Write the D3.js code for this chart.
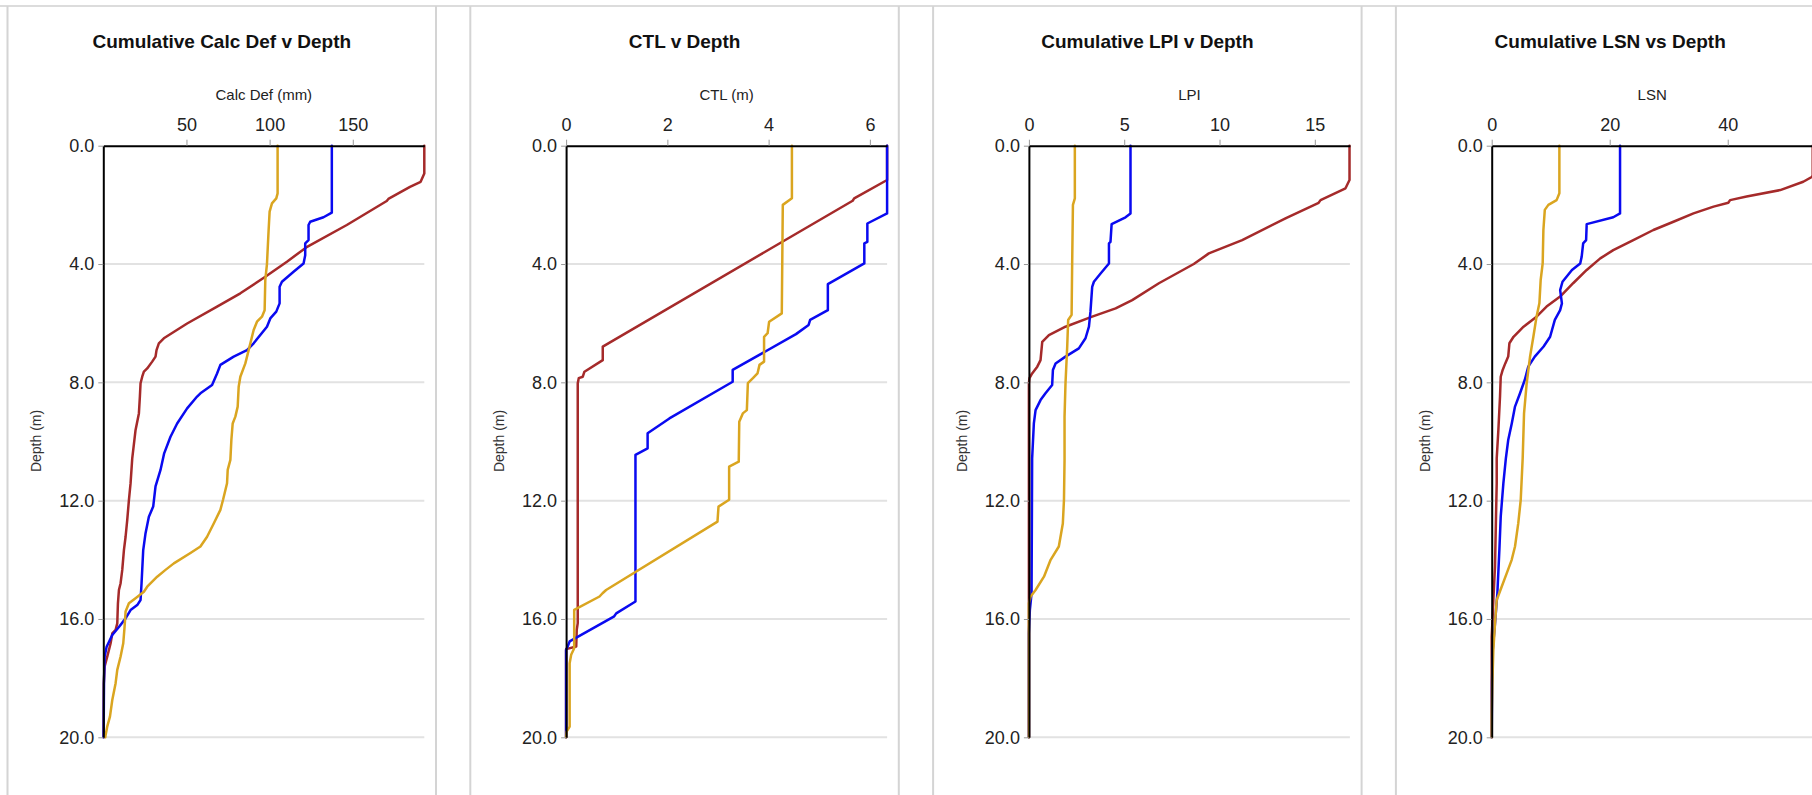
<!DOCTYPE html>
<html>
<head>
<meta charset="utf-8">
<script src="https://cdn.jsdelivr.net/npm/d3@7"></script>
<style>
  html, body { margin: 0; padding: 0; background: #fff; }
  svg { display: block; font-family: "Liberation Sans", Arial, sans-serif; }
</style>
</head>
<body>
<svg id="chart" width="1812" height="795"></svg>
<script>
// ---------------- DATA ([depth m, value]) ----------------
const panelTitles = ["Cumulative Calc Def v Depth", "CTL v Depth", "Cumulative LPI v Depth", "Cumulative LSN vs Depth"];
const axisTitles  = ["Calc Def (mm)", "CTL (m)", "LPI", "LSN"];
const xMax        = [193, 6.34, 16.84, 54.4];
const xTickValues = [[50, 100, 150], [0, 2, 4, 6], [0, 5, 10, 15], [0, 20, 40]];
const depthTicks  = [0, 4, 8, 12, 16, 20];
const yAxisTitle  = "Depth (m)";
const seriesColors = ["#a52a2a", "#0a0af0", "#daa520"];

// Panel 1: Cumulative Calc Def (mm)
const calcDefRed = [[0,193],[0.94,193],[1.22,190.8],[1.39,184.4],[1.80,171.4],[1.87,170.4],[2.68,146.4],[3.44,122],[3.92,110.4],[4.43,97.4],[4.99,82.4],[5.44,68.4],[6.01,50.4],[6.51,36.4],[6.68,33.4],[6.91,32],[7.13,31.4],[7.30,29.4],[7.53,26.4],[7.64,24.4],[7.81,23.4],[8.03,22.4],[8.48,22],[9.05,21.4],[9.61,19.4],[10.57,17.4],[11.41,16.4],[11.98,15.4],[12.65,14.4],[13.22,13.4],[13.67,12.4],[14.34,11.4],[14.79,10.4],[15.02,9.4],[15.47,8.8],[16.15,8.4],[16.37,7.4],[16.49,5.4],[16.82,4.4],[17.27,2.4],[17.6,0.8],[18.2,0.3],[20,0.2]];
const calcDefBlue = [[0,137.4],[2.26,137.4],[2.42,132.4],[2.57,124.4],[2.68,123.4],[3.19,123.4],[3.30,121.4],[3.70,121.4],[3.98,120.4],[4.26,114.4],[4.60,107.4],[4.77,106],[5.33,106],[5.61,104],[5.84,100.4],[6.12,98.4],[6.68,90.4],[6.91,86.4],[7.13,78.4],[7.41,70.4],[7.70,68.4],[8.09,65.4],[8.37,58.4],[8.48,56.4],[8.88,50.4],[9.39,44.4],[9.84,40.4],[10.4,36.6],[10.96,34.4],[11.52,31.4],[12.20,30],[12.54,27.4],[13.10,25.4],[13.67,24],[14.79,23],[15.36,22.4],[15.53,20.4],[15.70,16.4],[15.98,13.4],[16.27,9.4],[16.54,5.4],[16.94,2],[17.27,0.8],[18.17,0.4],[20,0.2]];
const calcDefGold = [[0,104.8],[1.61,104.8],[1.78,104],[1.95,101.4],[2.23,100],[2.85,99.4],[4.0,98.4],[4.54,97.4],[5.56,97],[5.78,95.4],[5.95,92.4],[6.23,90.4],[6.91,87.4],[7.36,85.4],[7.81,82.4],[8.15,81.4],[8.82,80.8],[9.16,79.4],[9.39,77.8],[9.95,77],[10.62,76.4],[10.96,74.8],[11.41,74.4],[11.97,72],[12.31,70.4],[12.77,66.4],[13.22,62.4],[13.55,58.4],[13.77,52.4],[14.12,42.4],[14.34,37.4],[14.57,32.4],[14.91,26.4],[15.08,24.4],[15.30,19.4],[15.47,15.4],[15.75,13.4],[16.26,12.8],[16.82,12],[17.27,10.4],[17.72,8.4],[18.17,7.4],[18.74,5.4],[19.30,4],[19.63,2.4],[19.92,1.4],[20,1.2]];

// Panel 2: CTL (m)
const ctlRed = [[0,6.34],[1.16,6.34],[1.78,5.69],[1.86,5.66],[6.79,0.724],[7.25,0.724],[7.64,0.362],[7.81,0.33],[7.86,0.25],[8.03,0.23],[16.14,0.23],[16.37,0.21],[16.93,0.2],[17.02,0],[20,0]];
const ctlBlue = [[0,6.34],[2.29,6.34],[2.63,5.95],[3.25,5.95],[3.30,5.89],[3.98,5.89],[4.68,5.17],[5.56,5.17],[5.89,4.82],[6.06,4.79],[6.37,4.54],[7.58,3.29],[7.98,3.29],[9.22,2.04],[9.72,1.61],[10.23,1.61],[10.45,1.37],[15.41,1.37],[15.81,0.99],[15.91,0.95],[16.76,0.07],[16.93,0.03],[17.05,0],[20,0]];
const ctlGold = [[0,4.46],[1.78,4.46],[2.0,4.28],[5.67,4.26],[5.95,4.01],[6.34,3.98],[6.46,3.91],[7.30,3.91],[7.41,3.82],[7.70,3.78],[7.86,3.69],[8.03,3.59],[8.94,3.57],[9.05,3.49],[9.33,3.42],[10.68,3.41],[10.85,3.22],[11.97,3.22],[12.20,3.01],[12.71,2.99],[15.02,0.79],[15.13,0.72],[15.24,0.66],[15.69,0.16],[16.99,0.16],[17.21,0.1],[17.50,0.07],[19.64,0.07],[19.81,0.01],[20,0]];

// Panel 3: Cumulative LPI
const lpiRed = [[0,16.82],[1.16,16.82],[1.44,16.61],[1.84,15.30],[1.93,15.2],[2.46,13.46],[3.19,11.19],[3.64,9.44],[4.0,8.65],[4.65,6.82],[5.22,5.42],[5.50,4.55],[5.78,3.32],[6.12,1.92],[6.40,1.05],[6.63,0.70],[7.25,0.61],[7.47,0.44],[7.70,0.17],[7.86,0.03],[8.03,0],[20,0]];
const lpiBlue = [[0,5.33],[2.29,5.33],[2.42,5.07],[2.65,4.34],[3.25,4.28],[3.30,4.2],[3.98,4.2],[4.32,3.76],[4.60,3.41],[4.77,3.32],[5.61,3.23],[6.12,3.15],[6.51,2.97],[6.85,2.62],[7.13,1.92],[7.36,1.40],[7.58,1.26],[8.09,1.22],[8.37,0.87],[8.60,0.61],[8.94,0.35],[9.39,0.26],[10.57,0.17],[15.13,0.14],[15.70,0.05],[16.49,0],[20,0]];
const lpiGold = [[0,2.41],[1.78,2.41],[2.0,2.31],[3.98,2.27],[5.72,2.24],[5.89,2.06],[6.79,2.01],[8.03,1.92],[9.16,1.87],[10.63,1.87],[11.97,1.84],[12.77,1.78],[13.55,1.57],[14.0,1.14],[14.57,0.79],[15.02,0.35],[15.24,0.09],[15.47,0],[20,0]];

// Panel 4: Cumulative LSN
const lsnRed = [[0,54.4],[1.0,54.4],[1.05,54.3],[1.22,52.8],[1.50,48.9],[1.72,43.2],[1.84,40.4],[1.93,40.1],[2.06,37.6],[2.29,34.2],[2.57,30.8],[2.85,27.4],[3.19,24.0],[3.53,20.6],[3.81,18.4],[4.20,16.1],[4.65,13.8],[5.10,11.6],[5.44,9.3],[5.78,7.6],[6.12,5.4],[6.46,3.7],[6.68,3.0],[7.13,2.8],[7.36,2.3],[7.58,1.86],[7.81,1.53],[8.48,1.41],[9.61,1.13],[10.57,0.85],[11.41,0.85],[12.54,0.73],[14.23,0.56],[15.36,0.28],[16.15,0.11],[16.6,0],[20,0]];
const lsnBlue = [[0,21.75],[2.29,21.75],[2.42,20.6],[2.65,16.1],[3.19,16.0],[3.30,15.5],[3.75,15.25],[3.98,15.0],[4.20,13.6],[4.60,12.0],[4.88,11.6],[5.33,11.9],[5.56,11.6],[5.89,10.7],[6.46,9.9],[6.79,8.8],[7.13,7.3],[7.47,6.2],[7.92,5.6],[8.37,4.8],[8.82,3.95],[9.39,3.4],[9.95,2.8],[10.57,2.4],[11.41,1.98],[12.54,1.53],[13.67,1.3],[15.13,0.96],[16.15,0.56],[17.05,0.17],[18.17,0.06],[20,0]];
const lsnGold = [[0,11.47],[1.61,11.47],[1.84,11.0],[2.0,9.6],[2.17,9.0],[2.85,8.76],[3.98,8.64],[4.54,8.3],[5.33,8.08],[5.78,7.6],[6.46,7.06],[7.13,6.5],[8.03,5.93],[9.05,5.48],[10.57,5.25],[11.97,4.92],[12.77,4.5],[13.55,3.95],[14.0,3.39],[14.46,2.54],[14.91,1.69],[15.36,0.85],[16.15,0.56],[17.05,0.28],[18.17,0.11],[19.30,0],[20,0]];

const panelSeries = [
  [calcDefRed, calcDefBlue, calcDefGold],
  [ctlRed, ctlBlue, ctlGold],
  [lpiRed, lpiBlue, lpiGold],
  [lsnRed, lsnBlue, lsnGold]
];

// ---------------- LAYOUT ----------------
const svg = d3.select("#chart");
const W = 1812, H = 795;
svg.append("rect").attr("width", W).attr("height", H).attr("fill", "#fff");

const plotTop = 145.7, plotBottom = 737.3, plotW = 321;
const firstPlotLeft = 103.3, panelStep = 462.8;

// top border line across the page
svg.append("line").attr("x1", 0).attr("x2", W).attr("y1", 6).attr("y2", 6)
  .attr("stroke", "#dcdcdc").attr("stroke-width", 2);

const y = d3.scaleLinear().domain([0, 20]).range([plotTop, plotBottom]);

panelTitles.forEach((title, i) => {
  const plotLeft = firstPlotLeft + i * panelStep;
  const panelLeft = plotLeft - 95.8;
  const panelRight = plotLeft + 332.7;
  const g = svg.append("g");

  // panel borders
  [panelLeft, panelRight].forEach(px => {
    g.append("line").attr("x1", px).attr("x2", px).attr("y1", 6).attr("y2", H)
      .attr("stroke", "#d4d4d4").attr("stroke-width", 2);
  });

  // title
  g.append("text").attr("x", panelLeft + 214.3).attr("y", 47.5)
    .attr("text-anchor", "middle").attr("font-size", 19).attr("font-weight", "bold")
    .attr("fill", "#111").text(title);

  const x = d3.scaleLinear().domain([0, xMax[i]]).range([plotLeft, plotLeft + plotW]);

  // x axis title
  g.append("text").attr("x", plotLeft + plotW / 2).attr("y", 100)
    .attr("text-anchor", "middle").attr("font-size", 15).attr("fill", "#222")
    .text(axisTitles[i]);

  // gridlines
  g.selectAll(".grid").data(depthTicks.filter(d => d > 0)).enter().append("line")
    .attr("x1", plotLeft).attr("x2", plotLeft + plotW)
    .attr("y1", d => y(d)).attr("y2", d => y(d))
    .attr("stroke", "#e2e2e2").attr("stroke-width", 2);

  // y axis label
  g.append("text")
    .attr("transform", `translate(${plotLeft - 62},441) rotate(-90)`)
    .attr("text-anchor", "middle").attr("font-size", 14).attr("fill", "#333")
    .text(yAxisTitle);

  // series lines
  const line = d3.line().x(d => x(d[1])).y(d => y(d[0])).curve(d3.curveLinear);
  panelSeries[i].forEach((s, k) => {
    g.append("path").datum(s).attr("d", line)
      .attr("fill", "none").attr("stroke", seriesColors[k])
      .attr("stroke-width", 2.5).attr("stroke-linejoin", "round").attr("stroke-linecap", "round");
  });

  // axes
  const xAxis = d3.axisTop(x).tickValues(xTickValues[i]).tickSize(6).tickSizeOuter(0).tickPadding(9)
    .tickFormat(d3.format("d"));
  const gx = g.append("g").attr("transform", `translate(0,${plotTop})`).call(xAxis);
  gx.select(".domain").attr("stroke", "#000").attr("stroke-width", 2);
  gx.selectAll(".tick line").attr("stroke", "#999");
  gx.selectAll(".tick text").attr("font-size", 18).attr("fill", "#222")
    .attr("font-family", "Liberation Sans, Arial, sans-serif");

  const yAxis = d3.axisLeft(y).tickValues(depthTicks).tickSize(5).tickSizeOuter(0).tickPadding(4)
    .tickFormat(d3.format(".1f"));
  const gy = g.append("g").attr("transform", `translate(${plotLeft},0)`).call(yAxis);
  gy.select(".domain").attr("stroke", "#000").attr("stroke-width", 2);
  gy.selectAll(".tick line").attr("stroke", "#999");
  gy.selectAll(".tick text").attr("font-size", 18).attr("fill", "#222")
    .attr("font-family", "Liberation Sans, Arial, sans-serif");
});
</script>
</body>
</html>
